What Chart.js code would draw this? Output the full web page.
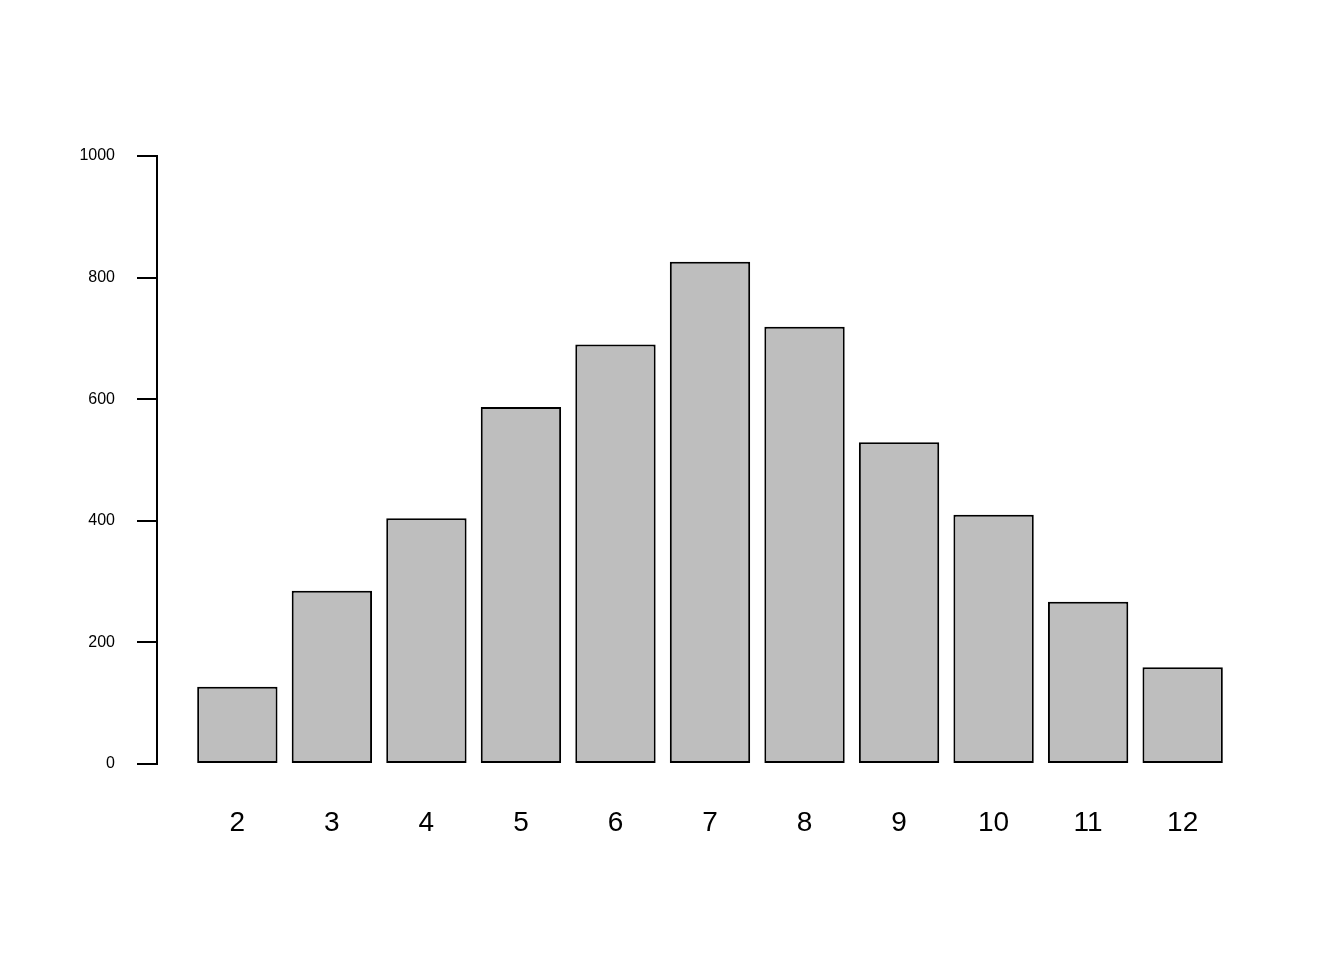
<!DOCTYPE html>
<html>
<head>
<meta charset="utf-8">
<script src="https://cdn.jsdelivr.net/npm/chart.js@4/dist/chart.umd.min.js"></script>
<style>
html,body{margin:0;padding:0;background:#fff;}
#wrap{width:1344px;height:960px;position:relative;}
</style>
</head>
<body>
<div id="wrap"><canvas id="c" width="1344" height="960"></canvas></div>
<script>
const categories = ['2','3','4','5','6','7','8','9','10','11','12'];
const counts = [127, 285, 404, 587, 690, 826, 719, 529, 410, 267, 159];
const yTicks = [0, 200, 400, 600, 800, 1000];

const points = counts.map((v, i) => ({x: i, y: v}));

new Chart(document.getElementById('c'), {
  type: 'bar',
  data: {
    datasets: [{
      data: points,
      backgroundColor: '#bebebe',
      borderColor: '#000',
      borderWidth: 2,
      borderSkipped: false,
      barPercentage: 0.85,
      categoryPercentage: 1
    }]
  },
  options: {
    responsive: false,
    animation: false,
    devicePixelRatio: 1,
    plugins: {legend: {display: false}, tooltip: {enabled: false}},
    layout: {padding: {left: 0, top: 156, right: 81, bottom: 0}},
    scales: {
      x: {
        type: 'linear',
        offset: false,
        min: -0.85,
        max: 10.85,
        grid: {display: false},
        border: {display: false},
        afterBuildTicks: s => { s.ticks = categories.map((c, i) => ({value: i})); },
        afterFit: s => { s.height = 196; },
        ticks: {
          autoSkip: false,
          maxRotation: 0,
          padding: 34,
          color: '#000',
          font: {family: 'Liberation Sans', size: 28},
          callback: v => categories[v]
        }
      },
      y: {
        min: 0,
        max: 1000,
        afterBuildTicks: s => { s.ticks = yTicks.map(v => ({value: v})); },
        afterFit: s => { s.width = 157; },
        grid: {drawOnChartArea: false, drawTicks: true, tickLength: 20, tickColor: '#000', lineWidth: 2},
        border: {display: true, color: '#000', width: 2},
        ticks: {
          padding: 22,
          color: '#000',
          font: {family: 'Liberation Sans', size: 16},
          callback: v => String(v)
        }
      }
    }
  }
});
</script>
</body>
</html>
